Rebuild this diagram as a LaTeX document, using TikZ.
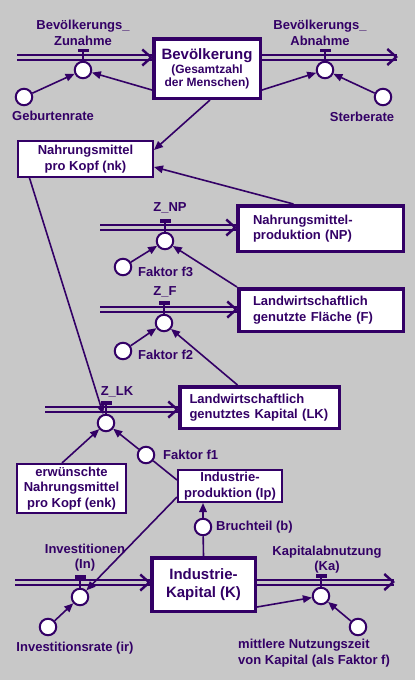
\documentclass[tikz,border=0pt]{standalone}
\usepackage{fontspec}
\setmainfont{Liberation Sans}
\usepackage{tikz}
\definecolor{ink}{RGB}{51, 0, 102}
\definecolor{panel}{RGB}{200, 200, 200}
\usetikzlibrary{arrows.meta, positioning, calc, decorations.markings}

\begin{document}
\begin{tikzpicture}[
    x=1pt, y=-1pt,
    every node/.style={text=ink, font=\fontsize{13}{15.5}\selectfont\bfseries},
    stock/.style={rectangle, draw=ink, fill=white, line width=3.5pt, inner sep=0pt},
    aux/.style={rectangle, draw=ink, fill=white, line width=2pt, inner sep=0pt, align=center},
    conv/.style={circle, draw=ink, fill=white, line width=2pt, minimum size=16.5pt, inner sep=0pt},
    valvebar/.style={rectangle, fill=ink, minimum width=11pt, minimum height=3.5pt, inner sep=0pt},
    stem/.style={draw=ink, line width=2pt},
    link/.style={draw=ink, line width=1.6pt, -{Triangle[length=9pt, width=7.5pt]}},
    plain/.style={draw=ink, line width=1.6pt},
    flow/.style={draw=ink, line width=2pt, double=panel, double distance=3pt,
        postaction={decorate, decoration={markings, mark=at position 1 with {
            \fill[ink] (1pt,0) -- (-9pt,9pt) -- (-10.5pt,7pt) -- (-2.5pt,0) -- (-10.5pt,-7pt) -- (-9pt,-9pt) -- cycle;}}}},
    lbl/.style={align=center, inner sep=0pt}
]
    \fill[panel] (0,0) rectangle (415,680);
    \useasboundingbox (0,0) rectangle (415,680);

    % stocks
    \node[stock, minimum width=106.5pt, minimum height=59.5pt, align=center, font=\fontsize{12}{12.5}\selectfont\bfseries] (bev) at (207,68.5)
        {{\fontsize{15}{15}\selectfont Bevölkerung}\\[2pt](Gesamtzahl\\der Menschen)};
    \node[stock, minimum width=165.5pt, minimum height=45.5pt, text width=135pt, align=left] (np) at (320.5,228.5) {Nahrungsmittel-\\produktion (NP)};
    \node[stock, minimum width=164.5pt, minimum height=42.5pt, text width=136pt, align=left] (fl) at (321,310) {Landwirtschaftlich\\genutzte Fläche (F)};
    \node[stock, minimum width=159.5pt, minimum height=41.5pt, text width=140pt, align=left] (lk) at (259.5,407.5) {Landwirtschaftlich\\genutztes Kapital (LK)};
    \node[stock, minimum width=103.5pt, minimum height=53.5pt, align=center, font=\fontsize{15}{18}\selectfont\bfseries] (kap) at (203.5,584.5) {Industrie-\\Kapital (K)};

    % auxiliaries
    \node[aux, minimum width=135pt, minimum height=36pt] (nk) at (85.5,159) {Nahrungsmittel\\pro Kopf (nk)};
    \node[aux, minimum width=109pt, minimum height=49pt] (enk) at (71.5,488.5) {erwünschte\\Nahrungsmittel\\pro Kopf (enk)};
    \node[aux, minimum width=104pt, minimum height=32pt] (ip) at (230,486) {Industrie-\\produktion (Ip)};

    % valves and converters
    \node[conv] (zu) at (83,70) {};
    \node[conv] (gr) at (24,97) {};
    \node[conv] (ab) at (325,70) {};
    \node[conv] (sr) at (383,97) {};
    \node[conv] (znp) at (165,241) {};
    \node[conv] (f3) at (123,267) {};
    \node[conv] (zf) at (164,323) {};
    \node[conv] (f2) at (123,351) {};
    \node[conv] (zlk) at (106,423) {};
    \node[conv] (f1) at (146,455) {};
    \node[conv] (b) at (203,527) {};
    \node[conv] (inv) at (80,597) {};
    \node[conv] (ir) at (48,627) {};
    \node[conv] (ka) at (321,596) {};
    \node[conv] (mn) at (358,627) {};

    \node[valvebar] (zuV) at (83,50.5) {};
    \node[valvebar] (abV) at (325,50.5) {};
    \node[valvebar] (znpV) at (165,221) {};
    \node[valvebar] (zfV) at (164,303) {};
    \node[valvebar] (zlkV) at (106,403) {};
    \node[valvebar] (invV) at (80,577) {};
    \node[valvebar] (kaV) at (321,576) {};

    % labels
    \node[lbl] (zuL) at (83,33) {Bevölkerungs\_\\Zunahme};
    \node[lbl] (abL) at (320,33) {Bevölkerungs\_\\Abnahme};
    \node[lbl] (grL) at (53,116) {Geburtenrate};
    \node[lbl] (srL) at (362,117) {Sterberate};
    \node[lbl] (znpL) at (170,208) {Z\_NP};
    \node[lbl, anchor=west] (f3L) at (138,272) {Faktor f3};
    \node[lbl] (zfL) at (165,292) {Z\_F};
    \node[lbl, anchor=west] (f2L) at (138,355) {Faktor f2};
    \node[lbl] (zlkL) at (117,392) {Z\_LK};
    \node[lbl, anchor=west] (f1L) at (163,455) {Faktor f1};
    \node[lbl, anchor=west] (bL) at (216,527) {Bruchteil (b)};
    \node[lbl] (invL) at (85,557.5) {Investitionen\\(In)};
    \node[lbl] (irL) at (75,648) {Investitionsrate (ir)};
    \node[lbl] (kaL) at (327,559.5) {Kapitalabnutzung\\(Ka)};
    \node[lbl, anchor=west, align=left] (mnL) at (238,653) {mittlere Nutzungszeit\\von Kapital (als Faktor f)};

    % flows
    \coordinate (zuIn) at (17,57.5);
    \coordinate (abOut) at (397,57);
    \coordinate (npIn) at (100,227.5);
    \coordinate (flIn) at (100,309.5);
    \coordinate (lkIn) at (45,409.5);
    \coordinate (kapIn) at (15,582.5);
    \coordinate (kapOut) at (394,582);
    \draw[flow] (zuIn) -- (zuIn -| bev.west);
    \draw[flow] (abOut -| bev.east) -- (abOut);
    \draw[flow] (npIn) -- (npIn -| np.west);
    \draw[flow] (flIn) -- (flIn -| fl.west);
    \draw[flow] (lkIn) -- (lkIn -| lk.west);
    \draw[flow] (kapIn) -- (kapIn -| kap.west);
    \draw[flow] (kapOut -| kap.east) -- (kapOut);

    \draw[stem] (zuV) -- (zu);
    \draw[stem] (abV) -- (ab);
    \draw[stem] (znpV) -- (znp);
    \draw[stem] (zfV) -- (zf);
    \draw[stem] (zlkV) -- (zlk);
    \draw[stem] (invV) -- (inv);
    \draw[stem] (kaV) -- (ka);

    % information links
    \draw[link] (gr) -- (zu);
    \draw[link] ([yshift=-21.5pt]bev.west) -- (zu);
    \draw[link] ([yshift=-21.5pt]bev.east) -- (ab);
    \draw[link] (sr) -- (ab);
    \draw[link] ([xshift=3pt]bev.south) -- ([yshift=9pt]nk.east);
    \draw[link] ([xshift=-27pt]np.north) -- ([yshift=-8pt]nk.east);
    \draw[link] (f3) -- (znp);
    \draw[link] (fl.north west) -- (znp);
    \draw[link] (f2) -- (zf);
    \draw[link] ([xshift=-22pt]lk.north) -- (zf);
    \draw[link] ([xshift=-56pt]nk.south) -- (zlk);
    \draw[link] ([xshift=-9.5pt]enk.north) -- (zlk);
    \draw[link] (f1) -- (zlk);
    \draw[plain] ([yshift=6pt]ip.west) -- (f1);
    \draw[link] (b) -- ([xshift=-27pt]ip.south);
    \draw[plain] (kap.north) -- (b);
    \draw[link] ([yshift=-11pt]ip.west) -- (inv);
    \draw[link] (ir) -- (inv);
    \draw[link] ([yshift=-22.5pt]kap.east) -- (ka);
    \draw[link] (mn) -- (ka);
\end{tikzpicture}
\end{document}
